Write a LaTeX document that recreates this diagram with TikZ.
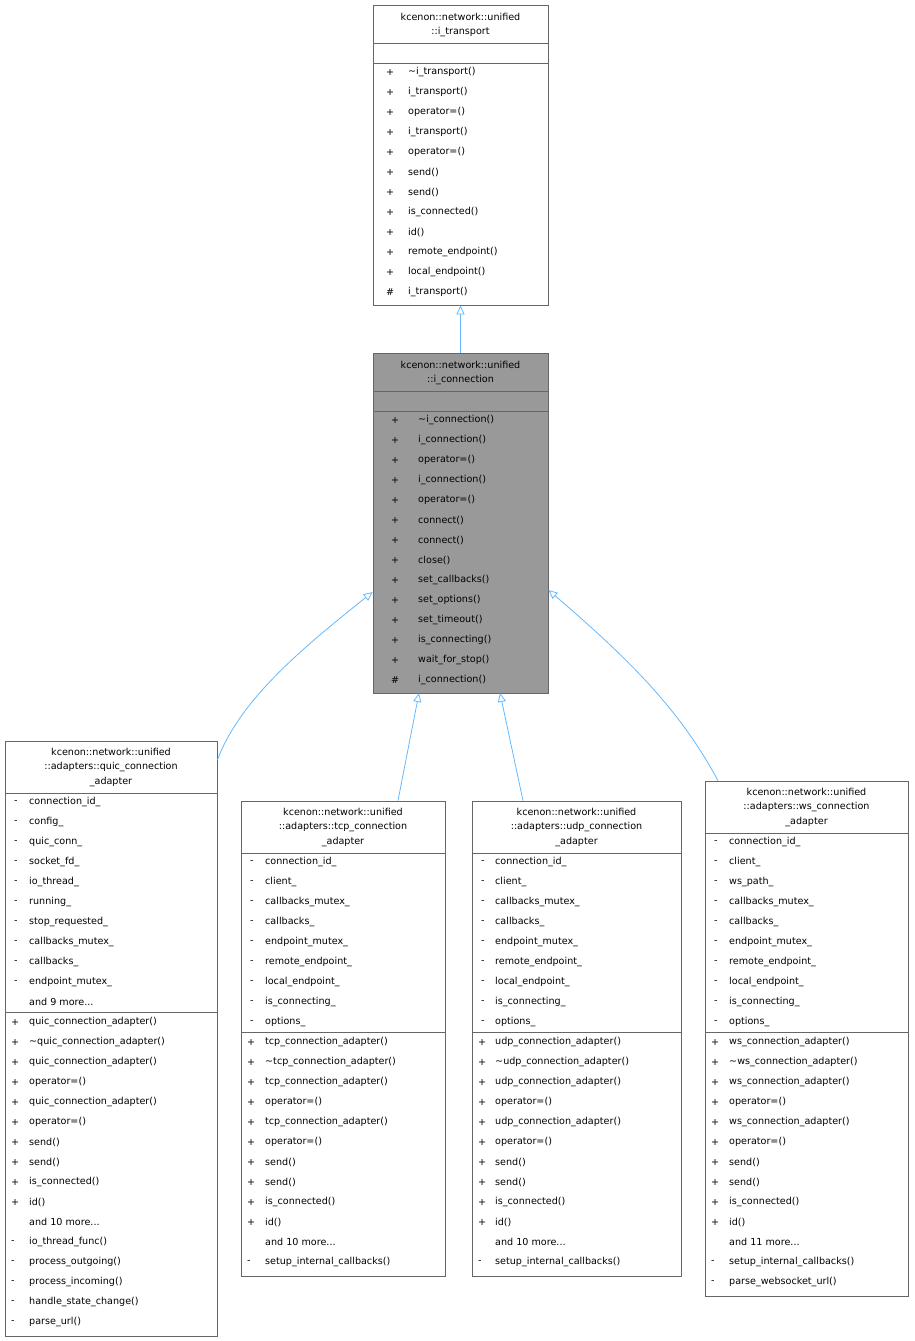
\documentclass[tikz,border=0pt]{standalone}
\usepackage{fontspec}
\setmainfont{DejaVu Sans}
\usetikzlibrary{arrows.meta}
\definecolor{edgeblue}{HTML}{63B8FF}
\definecolor{boxgray}{HTML}{999999}
\definecolor{boxline}{HTML}{666666}
\tikzset{
  umlbox/.style = {draw=boxline, line width=0.8pt, inner sep=0pt},
  sepline/.style = {draw=boxline, line width=0.8pt},
  txt/.style = {anchor=west, inner sep=0pt, font=\fontsize{9.6}{11}\selectfont},
  ttl/.style = {anchor=center, inner sep=0pt, font=\fontsize{9.6}{11}\selectfont},
  inherit/.style = {draw=edgeblue, line width=0.8pt, {Triangle[open, length=9pt, width=8pt]}-},
}
\newcommand{\moredots}{...}
% box: name, x1, y1, x2, y2, fill
\newcommand{\classbox}[6]{%
  \node[umlbox, fill=#6, minimum width={(#4-#2)*1pt}, minimum height={(#5-#3)*1pt}]
    (#1) at ({(#2+#4)/2}, {(#3+#5)/2}) {};}
% members: x of symbol, x of name, first y, list
\newcommand{\members}[4]{%
  \foreach \s/\t [count=\i from 0] in {#4} {
    \node[txt] at (#1, {#3+20*\i}) {\s};
    \node[txt] at (#2, {#3+20*\i}) {\t};
  }}
\begin{document}
\begin{tikzpicture}[x=1pt, y=-1pt]
\useasboundingbox (0,0) rectangle (914,1341);

% interface i_transport
\classbox{transport}{373}{5}{548}{305}{white}
\node[ttl] at (460.5,17) {kcenon::network::unified};
\node[ttl] at (460.5,32) {::i\_transport};
\draw[sepline] (373,43) -- (548,43);
\draw[sepline] (373,63) -- (548,63);
\members{386}{408}{72}{+/\textasciitilde i\_transport(), +/i\_transport(), +/operator=(), +/i\_transport(),
  +/operator=(), +/send(), +/send(), +/is\_connected(), +/id(), +/remote\_endpoint(),
  +/local\_endpoint(), \#/i\_transport()}

% interface i_connection
\classbox{connection}{373}{353}{548}{693}{boxgray}
\node[ttl] at (460.5,365) {kcenon::network::unified};
\node[ttl] at (460.5,380) {::i\_connection};
\draw[sepline] (373,391) -- (548,391);
\draw[sepline] (373,411) -- (548,411);
\members{391}{418}{420}{+/\textasciitilde i\_connection(), +/i\_connection(), +/operator=(), +/i\_connection(),
  +/operator=(), +/connect(), +/connect(), +/close(), +/set\_callbacks(), +/set\_options(),
  +/set\_timeout(), +/is\_connecting(), +/wait\_for\_stop(), \#/i\_connection()}

% quic adapter
\classbox{quic}{5}{741}{217}{1336}{white}
\node[ttl] at (111,752) {kcenon::network::unified};
\node[ttl] at (111,767) {::adapters::quic\_connection};
\node[ttl] at (111,782) {\_adapter};
\draw[sepline] (5,793) -- (217,793);
\draw[sepline] (5,1012) -- (217,1012);
\members{14}{29}{802}{-/connection\_id\_, -/config\_, -/quic\_conn\_, -/socket\_fd\_, -/io\_thread\_,
  -/running\_, -/stop\_requested\_, -/callbacks\_mutex\_, -/callbacks\_, -/endpoint\_mutex\_,
  {}/and 9 more\moredots}
\members{11}{29}{1022}{+/quic\_connection\_adapter(), +/\textasciitilde quic\_connection\_adapter(),
  +/quic\_connection\_adapter(), +/operator=(), +/quic\_connection\_adapter(), +/operator=(),
  +/send(), +/send(), +/is\_connected(), +/id(), {}/and 10 more\moredots, -/io\_thread\_func(),
  -/process\_outgoing(), -/process\_incoming(), -/handle\_state\_change(), -/parse\_url()}

% tcp adapter
\classbox{tcp}{241}{801}{445}{1276}{white}
\node[ttl] at (343,812) {kcenon::network::unified};
\node[ttl] at (343,827) {::adapters::tcp\_connection};
\node[ttl] at (343,842) {\_adapter};
\draw[sepline] (241,853) -- (445,853);
\draw[sepline] (241,1032) -- (445,1032);
\members{250}{265}{862}{-/connection\_id\_, -/client\_, -/callbacks\_mutex\_, -/callbacks\_,
  -/endpoint\_mutex\_, -/remote\_endpoint\_, -/local\_endpoint\_, -/is\_connecting\_, -/options\_}
\members{247}{265}{1042}{+/tcp\_connection\_adapter(), +/\textasciitilde tcp\_connection\_adapter(),
  +/tcp\_connection\_adapter(), +/operator=(), +/tcp\_connection\_adapter(), +/operator=(),
  +/send(), +/send(), +/is\_connected(), +/id(), {}/and 10 more\moredots, -/setup\_internal\_callbacks()}

% udp adapter
\classbox{udp}{472}{801}{681}{1276}{white}
\node[ttl] at (576.5,812) {kcenon::network::unified};
\node[ttl] at (576.5,827) {::adapters::udp\_connection};
\node[ttl] at (576.5,842) {\_adapter};
\draw[sepline] (472,853) -- (681,853);
\draw[sepline] (472,1032) -- (681,1032);
\members{481}{495}{862}{-/connection\_id\_, -/client\_, -/callbacks\_mutex\_, -/callbacks\_,
  -/endpoint\_mutex\_, -/remote\_endpoint\_, -/local\_endpoint\_, -/is\_connecting\_, -/options\_}
\members{478}{495}{1042}{+/udp\_connection\_adapter(), +/\textasciitilde udp\_connection\_adapter(),
  +/udp\_connection\_adapter(), +/operator=(), +/udp\_connection\_adapter(), +/operator=(),
  +/send(), +/send(), +/is\_connected(), +/id(), {}/and 10 more\moredots, -/setup\_internal\_callbacks()}

% ws adapter
\classbox{ws}{705}{781}{908}{1296}{white}
\node[ttl] at (806.5,792) {kcenon::network::unified};
\node[ttl] at (806.5,807) {::adapters::ws\_connection};
\node[ttl] at (806.5,822) {\_adapter};
\draw[sepline] (705,833) -- (908,833);
\draw[sepline] (705,1032) -- (908,1032);
\members{714}{729}{842}{-/connection\_id\_, -/client\_, -/ws\_path\_, -/callbacks\_mutex\_, -/callbacks\_,
  -/endpoint\_mutex\_, -/remote\_endpoint\_, -/local\_endpoint\_, -/is\_connecting\_, -/options\_}
\members{711}{729}{1042}{+/ws\_connection\_adapter(), +/\textasciitilde ws\_connection\_adapter(),
  +/ws\_connection\_adapter(), +/operator=(), +/ws\_connection\_adapter(), +/operator=(),
  +/send(), +/send(), +/is\_connected(), +/id(), {}/and 11 more\moredots, -/setup\_internal\_callbacks(),
  -/parse\_websocket\_url()}

% inheritance
\draw[inherit] (transport.south) -- (connection.north);
\draw[inherit] (connection.west |- 0,592) .. controls (300,650) and (240,700) .. (quic.east |- 0,760);
\draw[inherit] (419,693) -- (tcp.north -| 398,0);
\draw[inherit] (500,693) -- (udp.north -| 523,0);
\draw[inherit] (connection.east |- 0,590) .. controls (630,660) and (680,710) .. (ws.north -| 718,0);
\end{tikzpicture}
\end{document}
